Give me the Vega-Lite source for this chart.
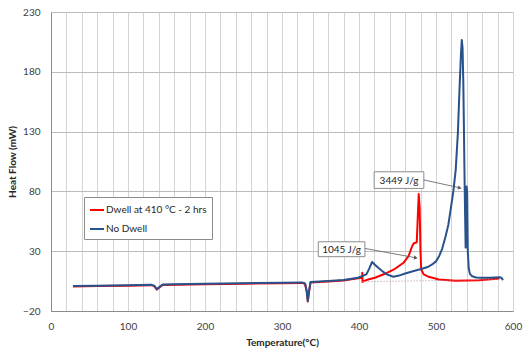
{
  "$schema": "https://vega.github.io/schema/vega-lite/v6.json",
  "width": 462,
  "height": 299,
  "autosize": {"type": "none"},
  "padding": {"left": 51, "top": 12, "right": 11, "bottom": 38},
  "background": "white",
  "config": {
    "font": "Lato",
    "view": {"stroke": null},
    "axis": {"labelFont": "Lato", "titleFont": "Lato", "labelFontSize": 10, "titleFontSize": 10, "labelColor": "#404040", "titleColor": "#262626", "titleFontWeight": "bold", "ticks": false, "domainColor": "#8c8c8c", "labelOverlap": false}
  },
  "datasets": {
    "curves": [
      {"s": "Dwell at 410 °C - 2 hrs", "T": 28.5, "HF": 0.4},
      {"s": "Dwell at 410 °C - 2 hrs", "T": 60, "HF": 0.8},
      {"s": "Dwell at 410 °C - 2 hrs", "T": 100, "HF": 1.2},
      {"s": "Dwell at 410 °C - 2 hrs", "T": 130, "HF": 1.6},
      {"s": "Dwell at 410 °C - 2 hrs", "T": 134, "HF": 0.8},
      {"s": "Dwell at 410 °C - 2 hrs", "T": 137.5, "HF": -2.1},
      {"s": "Dwell at 410 °C - 2 hrs", "T": 141, "HF": -0.2},
      {"s": "Dwell at 410 °C - 2 hrs", "T": 145, "HF": 1.8},
      {"s": "Dwell at 410 °C - 2 hrs", "T": 200, "HF": 2.4},
      {"s": "Dwell at 410 °C - 2 hrs", "T": 250, "HF": 2.8},
      {"s": "Dwell at 410 °C - 2 hrs", "T": 300, "HF": 3.2},
      {"s": "Dwell at 410 °C - 2 hrs", "T": 326, "HF": 3.5},
      {"s": "Dwell at 410 °C - 2 hrs", "T": 330, "HF": 2.6},
      {"s": "Dwell at 410 °C - 2 hrs", "T": 332, "HF": -3.4},
      {"s": "Dwell at 410 °C - 2 hrs", "T": 333.5, "HF": -12},
      {"s": "Dwell at 410 °C - 2 hrs", "T": 335, "HF": -4.4},
      {"s": "Dwell at 410 °C - 2 hrs", "T": 337, "HF": 3.8},
      {"s": "Dwell at 410 °C - 2 hrs", "T": 360, "HF": 4.6},
      {"s": "Dwell at 410 °C - 2 hrs", "T": 380, "HF": 5.5},
      {"s": "Dwell at 410 °C - 2 hrs", "T": 398.7, "HF": 7.3},
      {"s": "Dwell at 410 °C - 2 hrs", "T": 404, "HF": 7.8},
      {"s": "Dwell at 410 °C - 2 hrs", "T": 404.3, "HF": 12},
      {"s": "Dwell at 410 °C - 2 hrs", "T": 404.6, "HF": 4.2},
      {"s": "Dwell at 410 °C - 2 hrs", "T": 405.3, "HF": 5},
      {"s": "Dwell at 410 °C - 2 hrs", "T": 412, "HF": 6.3},
      {"s": "Dwell at 410 °C - 2 hrs", "T": 420.6, "HF": 7.8},
      {"s": "Dwell at 410 °C - 2 hrs", "T": 433.7, "HF": 11.1},
      {"s": "Dwell at 410 °C - 2 hrs", "T": 446.8, "HF": 15.3},
      {"s": "Dwell at 410 °C - 2 hrs", "T": 457.8, "HF": 20.3},
      {"s": "Dwell at 410 °C - 2 hrs", "T": 464.3, "HF": 25.8},
      {"s": "Dwell at 410 °C - 2 hrs", "T": 468.7, "HF": 33.6},
      {"s": "Dwell at 410 °C - 2 hrs", "T": 470.9, "HF": 36.4},
      {"s": "Dwell at 410 °C - 2 hrs", "T": 475, "HF": 37.5},
      {"s": "Dwell at 410 °C - 2 hrs", "T": 476.2, "HF": 56.4},
      {"s": "Dwell at 410 °C - 2 hrs", "T": 477.6, "HF": 77.8},
      {"s": "Dwell at 410 °C - 2 hrs", "T": 478.8, "HF": 66},
      {"s": "Dwell at 410 °C - 2 hrs", "T": 479.8, "HF": 30},
      {"s": "Dwell at 410 °C - 2 hrs", "T": 480.8, "HF": 14.7},
      {"s": "Dwell at 410 °C - 2 hrs", "T": 484, "HF": 10.6},
      {"s": "Dwell at 410 °C - 2 hrs", "T": 490.6, "HF": 8.6},
      {"s": "Dwell at 410 °C - 2 hrs", "T": 503.7, "HF": 6.4},
      {"s": "Dwell at 410 °C - 2 hrs", "T": 525.6, "HF": 5.3},
      {"s": "Dwell at 410 °C - 2 hrs", "T": 556, "HF": 5.8},
      {"s": "Dwell at 410 °C - 2 hrs", "T": 582.5, "HF": 7.2},
      {"s": "No Dwell", "T": 28.5, "HF": 0.8},
      {"s": "No Dwell", "T": 60, "HF": 1.2},
      {"s": "No Dwell", "T": 100, "HF": 1.6},
      {"s": "No Dwell", "T": 130, "HF": 2.0},
      {"s": "No Dwell", "T": 134, "HF": 1.2},
      {"s": "No Dwell", "T": 137.5, "HF": -1.8},
      {"s": "No Dwell", "T": 141, "HF": 0.2},
      {"s": "No Dwell", "T": 145, "HF": 2.2},
      {"s": "No Dwell", "T": 200, "HF": 2.8},
      {"s": "No Dwell", "T": 250, "HF": 3.2},
      {"s": "No Dwell", "T": 300, "HF": 3.6},
      {"s": "No Dwell", "T": 326, "HF": 3.9},
      {"s": "No Dwell", "T": 330, "HF": 3.0},
      {"s": "No Dwell", "T": 332, "HF": -3},
      {"s": "No Dwell", "T": 333.5, "HF": -11.8},
      {"s": "No Dwell", "T": 335, "HF": -4},
      {"s": "No Dwell", "T": 337, "HF": 4.2},
      {"s": "No Dwell", "T": 360, "HF": 5.0},
      {"s": "No Dwell", "T": 380, "HF": 5.9},
      {"s": "No Dwell", "T": 398.7, "HF": 7.8},
      {"s": "No Dwell", "T": 404, "HF": 9.2},
      {"s": "No Dwell", "T": 409.6, "HF": 10.6},
      {"s": "No Dwell", "T": 413, "HF": 15},
      {"s": "No Dwell", "T": 417, "HF": 21},
      {"s": "No Dwell", "T": 421, "HF": 18.5},
      {"s": "No Dwell", "T": 425, "HF": 16.1},
      {"s": "No Dwell", "T": 430, "HF": 13.5},
      {"s": "No Dwell", "T": 436, "HF": 10.6},
      {"s": "No Dwell", "T": 444.6, "HF": 8.6},
      {"s": "No Dwell", "T": 452, "HF": 9.6},
      {"s": "No Dwell", "T": 460, "HF": 11.4},
      {"s": "No Dwell", "T": 470, "HF": 13.3},
      {"s": "No Dwell", "T": 482, "HF": 15.3},
      {"s": "No Dwell", "T": 490, "HF": 17},
      {"s": "No Dwell", "T": 495, "HF": 18.9},
      {"s": "No Dwell", "T": 500, "HF": 21.5},
      {"s": "No Dwell", "T": 504, "HF": 25.8},
      {"s": "No Dwell", "T": 508, "HF": 32},
      {"s": "No Dwell", "T": 512.5, "HF": 42.5},
      {"s": "No Dwell", "T": 516, "HF": 52},
      {"s": "No Dwell", "T": 519, "HF": 64.7},
      {"s": "No Dwell", "T": 522.5, "HF": 80},
      {"s": "No Dwell", "T": 525.6, "HF": 98},
      {"s": "No Dwell", "T": 528.5, "HF": 130},
      {"s": "No Dwell", "T": 530.5, "HF": 165},
      {"s": "No Dwell", "T": 532.5, "HF": 196},
      {"s": "No Dwell", "T": 533.5, "HF": 206.5},
      {"s": "No Dwell", "T": 534.5, "HF": 200},
      {"s": "No Dwell", "T": 535.5, "HF": 170},
      {"s": "No Dwell", "T": 536.3, "HF": 131},
      {"s": "No Dwell", "T": 537, "HF": 95},
      {"s": "No Dwell", "T": 537.8, "HF": 60},
      {"s": "No Dwell", "T": 538.5, "HF": 33},
      {"s": "No Dwell", "T": 539.2, "HF": 40},
      {"s": "No Dwell", "T": 539.8, "HF": 84},
      {"s": "No Dwell", "T": 540.5, "HF": 78},
      {"s": "No Dwell", "T": 541.3, "HF": 30},
      {"s": "No Dwell", "T": 542.5, "HF": 16},
      {"s": "No Dwell", "T": 544, "HF": 11},
      {"s": "No Dwell", "T": 547, "HF": 9},
      {"s": "No Dwell", "T": 552, "HF": 8},
      {"s": "No Dwell", "T": 558, "HF": 7.8},
      {"s": "No Dwell", "T": 570, "HF": 7.8},
      {"s": "No Dwell", "T": 582.5, "HF": 8.3},
      {"s": "No Dwell", "T": 585, "HF": 7.8},
      {"s": "No Dwell", "T": 587, "HF": 5.8}
    ],
    "baseline": [
      {"T": 404.6, "HF": 4.5},
      {"T": 582.5, "HF": 6.3}
    ],
    "boxes": [
      {"T": 419.7, "T2": 484.2, "HF": 82.5, "HF2": 96.4},
      {"T": 347.1, "T2": 407.7, "HF": 25.4, "HF2": 37.9}
    ],
    "labels": [
      {"T": 452, "HF": 88.6, "label": "3449 J/g"},
      {"T": 377.4, "HF": 31, "label": "1045 J/g"}
    ],
    "arrows": [
      {"T": 484.2, "HF": 89.6, "T2": 530.9, "HF2": 83},
      {"T": 407.7, "HF": 32.3, "T2": 473.8, "HF2": 24.5}
    ],
    "heads": [
      {"T": 530.9, "HF": 83},
      {"T": 473.8, "HF": 24.5}
    ]
  },
  "encoding": {
    "x": {"field": "T", "type": "quantitative", "scale": {"domain": [0, 600], "nice": false, "zero": false},
      "axis": {"title": "Temperature(°C)", "values": [0,20,40,60,80,100,120,140,160,180,200,220,240,260,280,300,320,340,360,380,400,420,440,460,480,500,520,540,560,580,600],
        "labelExpr": "datum.value % 100 === 0 ? datum.label : ''", "grid": true, "gridColor": "#d4d4d4", "gridWidth": 1, "labelPadding": 10, "titlePadding": 6, "labelFlush": false, "labelOverlap": false}},
    "y": {"field": "HF", "type": "quantitative", "scale": {"domain": [-20, 230], "nice": false, "zero": false},
      "axis": {"title": "Heat Flow (mW)", "values": [-20, 30, 80, 130, 180, 230], "grid": true, "gridColor": "#bdbdbd", "gridWidth": 1, "labelPadding": 11, "titlePadding": 5, "labelFlush": false}}
  },
  "layer": [
    {
      "data": {"name": "curves"},
      "transform": [{"filter": "datum.s === 'Dwell at 410 °C - 2 hrs'"}],
      "mark": {"type": "line", "strokeWidth": 2, "strokeJoin": "round"},
      "encoding": {
        "color": {"field": "s", "type": "nominal",
          "scale": {"domain": ["Dwell at 410 °C - 2 hrs", "No Dwell"], "range": ["#ff0000", "#27528c"]},
          "legend": {"orient": "none", "legendX": 33, "legendY": 185, "title": null, "strokeColor": "#8c8c8c", "fillColor": "white", "padding": 5, "symbolType": "stroke", "symbolSize": 196, "symbolStrokeWidth": 2, "labelFontSize": 10, "labelFont": "Lato", "labelColor": "#262626", "rowPadding": 6, "labelOffset": 1, "labelLimit": 200}},
        "order": {"field": "T", "type": "quantitative"}
      }
    },
    {
      "data": {"name": "curves"},
      "transform": [{"filter": "datum.s === 'No Dwell'"}],
      "mark": {"type": "line", "strokeWidth": 2, "strokeJoin": "round"},
      "encoding": {
        "color": {"field": "s", "type": "nominal"},
        "order": {"field": "T", "type": "quantitative"}
      }
    },
    {
      "data": {"name": "baseline"},
      "mark": {"type": "line", "strokeWidth": 1, "strokeDash": [1, 2], "color": "#b08aa8"},
      "encoding": {}
    },
    {
      "data": {"name": "boxes"},
      "mark": {"type": "rect", "fill": "white", "stroke": "#8c8c8c", "strokeWidth": 1},
      "encoding": {
        "x2": {"field": "T2"},
        "y2": {"field": "HF2"}
      }
    },
    {
      "data": {"name": "labels"},
      "mark": {"type": "text", "fontSize": 10, "font": "Lato", "color": "#262626", "align": "center", "baseline": "middle"},
      "encoding": {
        "text": {"field": "label"}
      }
    },
    {
      "data": {"name": "arrows"},
      "mark": {"type": "rule", "color": "#595959", "strokeWidth": 0.8},
      "encoding": {
        "x2": {"field": "T2"},
        "y2": {"field": "HF2"}
      }
    },
    {
      "data": {"name": "heads"},
      "mark": {"type": "point", "shape": "triangle-right", "filled": true, "size": 18, "angle": 11, "color": "#595959", "opacity": 1},
      "encoding": {}
    }
  ]
}
